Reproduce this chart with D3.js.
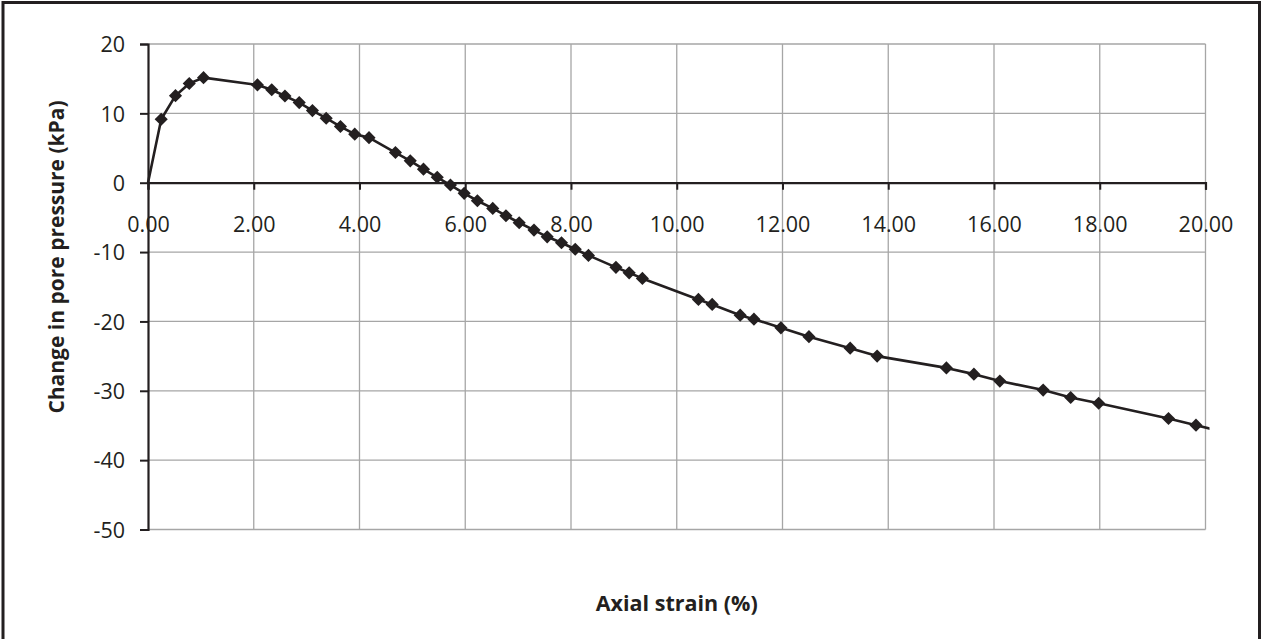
<!DOCTYPE html>
<html>
<head>
<meta charset="utf-8">
<script src="https://cdn.jsdelivr.net/npm/d3@7"></script>
<style>
  html, body { margin: 0; padding: 0; background: #ffffff; }
  svg { display: block; }
  text { font-family: "Open Sans", "Noto Sans", sans-serif; fill: #231f20; }
</style>
</head>
<body>
<svg id="chart" width="1261" height="639"></svg>
<script>
// Axial strain (%) readings
const strain = [
  0.00, 0.25, 0.52, 0.78, 1.05, 2.07, 2.34, 2.59, 2.86, 3.11,
  3.37, 3.64, 3.91, 4.18, 4.68, 4.96, 5.21, 5.47, 5.72, 5.98,
  6.23, 6.52, 6.77, 7.02, 7.30, 7.55, 7.82, 8.08, 8.33, 8.85,
  9.10, 9.35, 10.41, 10.67, 11.20, 11.46, 11.97, 12.50, 13.28, 13.79,
  15.10, 15.62, 16.11, 16.93, 17.45, 17.98, 19.30, 19.82, 20.50
];
// Change in pore pressure (kPa) at each reading
const porePressure = [
  0.0, 9.15, 12.55, 14.3, 15.15, 14.1, 13.4, 12.5, 11.55, 10.4,
  9.3, 8.1, 7.0, 6.5, 4.35, 3.15, 1.95, 0.78, -0.33, -1.53,
  -2.6, -3.7, -4.76, -5.77, -6.83, -7.8, -8.66, -9.6, -10.48, -12.2,
  -12.99, -13.8, -16.83, -17.55, -19.1, -19.67, -20.92, -22.2, -23.85, -25.0,
  -26.7, -27.6, -28.6, -29.9, -30.97, -31.8, -34.0, -34.96, -36.2
];
const xTicks = [0, 2, 4, 6, 8, 10, 12, 14, 16, 18, 20];
const yTicks = [20, 10, 0, -10, -20, -30, -40, -50];
const xTitle = "Axial strain (%)";
const yTitle = "Change in pore pressure (kPa)";

const ink = "#231f20";
const gridColor = "#a6a6a6";

const svg = d3.select("#chart");

// outer frame (runs off the bottom edge)
svg.append("rect")
  .attr("x", 3).attr("y", 2.5)
  .attr("width", 1256.5).attr("height", 700)
  .attr("fill", "none").attr("stroke", ink).attr("stroke-width", 3);

const x = d3.scaleLinear().domain([0, 20]).range([148, 1205.5]);
const y = d3.scaleLinear().domain([-50, 20]).range([529.5, 44]);

// gridlines
const grid = svg.append("g");
grid.selectAll("line.v").data(xTicks.filter(d => d !== 0)).join("line")
  .attr("x1", d => x(d)).attr("x2", d => x(d))
  .attr("y1", y(20)).attr("y2", y(-50))
  .attr("stroke", gridColor).attr("stroke-width", 1.3);
grid.selectAll("line.h").data(yTicks.filter(d => d !== 0)).join("line")
  .attr("x1", x(0)).attr("x2", x(20))
  .attr("y1", d => y(d)).attr("y2", d => y(d))
  .attr("stroke", gridColor).attr("stroke-width", 1.3);

// x axis along zero line
const xAxis = d3.axisBottom(x).tickValues(xTicks).tickSize(7).tickFormat(d => d.toFixed(2));
const gx = svg.append("g").attr("transform", `translate(0,${y(0)})`).call(xAxis);
gx.select(".domain").attr("stroke", ink).attr("stroke-width", 2.2);
gx.selectAll(".tick line").attr("stroke", ink).attr("stroke-width", 2);
gx.selectAll(".tick text")
  .attr("y", 49).attr("dy", 0)
  .style("font-size", "21.5px").attr("fill", ink);

// y axis
const yAxis = d3.axisLeft(y).tickValues(yTicks).tickSize(8).tickFormat(d => String(d));
const gy = svg.append("g").attr("transform", `translate(${x(0)},0)`).call(yAxis);
gy.select(".domain").attr("stroke", ink).attr("stroke-width", 2.2);
gy.selectAll(".tick line").attr("stroke", ink).attr("stroke-width", 2);
gy.selectAll(".tick text")
  .attr("x", -23).attr("dy", "0.36em")
  .style("font-size", "21.5px").attr("fill", ink);

// data series
const pts = strain.map((s, i) => ({ s, p: porePressure[i] }));

const defs = svg.append("defs");
defs.append("clipPath").attr("id", "lineClip")
  .append("rect")
  .attr("x", x(0) - 2).attr("y", y(20) - 10)
  .attr("width", x(20) - x(0) + 6).attr("height", y(-50) - y(20) + 20);
defs.append("clipPath").attr("id", "markClip")
  .append("rect")
  .attr("x", x(0) - 10).attr("y", y(20) - 10)
  .attr("width", x(20) - x(0) + 14).attr("height", y(-50) - y(20) + 20);

const line = d3.line().x(d => x(d.s)).y(d => y(d.p)).curve(d3.curveLinear);
svg.append("path")
  .datum(pts)
  .attr("clip-path", "url(#lineClip)")
  .attr("d", line)
  .attr("fill", "none").attr("stroke", ink).attr("stroke-width", 2.6)
  .attr("stroke-linejoin", "round");

const diamond = d3.symbol().type(d3.symbolDiamond2).size(110);
svg.append("g").attr("clip-path", "url(#markClip)")
  .selectAll("path").data(pts.slice(1)).join("path")
  .attr("transform", d => `translate(${x(d.s)},${y(d.p)})`)
  .attr("d", diamond)
  .attr("fill", ink);

// axis titles
svg.append("text")
  .attr("x", x(10)).attr("y", 611)
  .attr("text-anchor", "middle")
  .style("font-size", "21.5px").style("font-weight", "bold")
  .text(xTitle);

svg.append("text")
  .attr("transform", `translate(64,257) rotate(-90)`)
  .attr("text-anchor", "middle")
  .style("font-size", "21px").style("font-weight", "bold")
  .text(yTitle);
</script>
</body>
</html>
